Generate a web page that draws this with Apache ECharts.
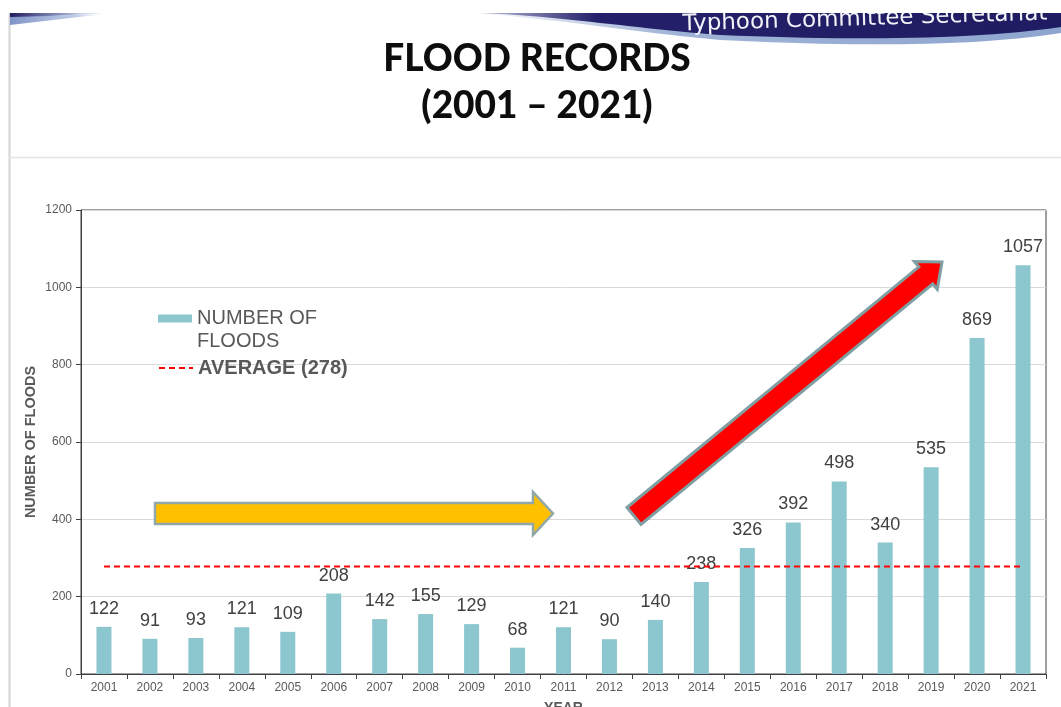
<!DOCTYPE html>
<html>
<head>
<meta charset="utf-8">
<title>Flood Records (2001 – 2021)</title>
<script src="https://cdn.jsdelivr.net/npm/echarts@6/dist/echarts.min.js"></script>
<style>
  html, body { margin: 0; padding: 0; background: #ffffff; }
  #chart { width: 1061px; height: 707px; }
</style>
</head>
<body>
<div id="chart"></div>
<script>
// Yearly flood counts and their long-term average
const years = ['2001', '2002', '2003', '2004', '2005', '2006', '2007', '2008', '2009', '2010', '2011',
               '2012', '2013', '2014', '2015', '2016', '2017', '2018', '2019', '2020', '2021'];
const floods = [122, 91, 93, 121, 109, 208, 142, 155, 129, 68, 121,
                90, 140, 238, 326, 392, 498, 340, 535, 869, 1057];
const averageValue = 278;
const averageLine = years.map(() => averageValue);
const yTicks = { min: 0, max: 1200, interval: 200 };

const BAR_NAME = 'NUMBER OF FLOODS';
const AVG_NAME = 'AVERAGE (' + averageValue + ')';

const chart = echarts.init(document.getElementById('chart'), null, { renderer: 'canvas' });

// Block arrow polygon from tail to tip
function blockArrow(tail, tip, halfShaft, headLen, halfHead) {
  const dx = tip[0] - tail[0], dy = tip[1] - tail[1];
  const len = Math.hypot(dx, dy);
  const ux = dx / len, uy = dy / len;
  const nx = -uy, ny = ux;
  const bx = tip[0] - ux * headLen, by = tip[1] - uy * headLen;
  return [
    [tail[0] - nx * halfShaft, tail[1] - ny * halfShaft],
    [bx - nx * halfShaft, by - ny * halfShaft],
    [bx - nx * halfHead, by - ny * halfHead],
    tip,
    [bx + nx * halfHead, by + ny * halfHead],
    [bx + nx * halfShaft, by + ny * halfShaft],
    [tail[0] + nx * halfShaft, tail[1] + ny * halfShaft]
  ];
}

// Sample a chain of cubic Bezier segments into polygon points
function bezierChain(start, segments, steps) {
  const pts = [start];
  let p0 = start;
  segments.forEach(([c1, c2, p3]) => {
    for (let i = 1; i <= steps; i++) {
      const t = i / steps, m = 1 - t;
      pts.push([
        m * m * m * p0[0] + 3 * m * m * t * c1[0] + 3 * m * t * t * c2[0] + t * t * t * p3[0],
        m * m * m * p0[1] + 3 * m * m * t * c1[1] + 3 * m * t * t * c2[1] + t * t * t * p3[1]
      ]);
    }
    p0 = p3;
  });
  return pts;
}

// header swoosh outlines (lower edges run right to left)
const bandEdge = bezierChain([1061, 27], [[[980, 39], [860, 41], [720, 35]], [[640, 29], [560, 16], [480, 13]]], 24);
const stripeEdge = bezierChain([1061, 33], [[[980, 46], [860, 47], [720, 40]], [[640, 33], [560, 19], [470, 13]]], 24);

const labelFont = 'Liberation Sans, Arial, sans-serif';

chart.setOption({
  backgroundColor: '#ffffff',
  animation: false,
  title: {
    text: 'FLOOD RECORDS\n(2001 – 2021)',
    left: 537,
    top: 36,
    padding: 0,
    textAlign: 'center',
    textStyle: {
      fontFamily: 'Lato, sans-serif',
      fontWeight: 900,
      fontSize: 37,
      lineHeight: 47,
      color: '#0d0d0d'
    }
  },
  legend: [
    {
      data: [{ name: BAR_NAME, icon: 'rect' }],
      left: 158,
      top: 284,
      padding: 0,
      itemWidth: 34,
      itemHeight: 8,
      formatter: () => '\nNUMBER OF\nFLOODS',
      textStyle: {
        fontFamily: labelFont,
        fontSize: 20,
        lineHeight: 23,
        color: '#595959'
      }
    },
    {
      data: [{ name: AVG_NAME, itemStyle: { opacity: 0 } }],
      left: 158,
      top: 358,
      padding: 0,
      itemWidth: 34,
      itemHeight: 8,
      textStyle: {
        fontFamily: labelFont,
        fontSize: 20,
        fontWeight: 'bold',
        color: '#595959'
      }
    }
  ],
  grid: {
    left: 81,
    right: 15,
    top: 210,
    bottom: 33,
    outerBoundsMode: 'none',
    containLabel: false,
    show: true,
    borderColor: '#404040',
    borderWidth: 1
  },
  xAxis: {
    type: 'category',
    data: years,
    boundaryGap: true,
    name: 'YEAR',
    nameLocation: 'middle',
    nameGap: 27,
    nameTextStyle: { fontFamily: labelFont, fontSize: 14, fontWeight: 'bold', color: '#595959' },
    axisLine: { lineStyle: { color: '#404040', width: 1 } },
    axisTick: { show: true, alignWithLabel: false, length: 5, lineStyle: { color: '#404040' } },
    axisLabel: { fontFamily: labelFont, fontSize: 12, color: '#595959', margin: 8, interval: 0 },
    splitLine: { show: false }
  },
  yAxis: {
    type: 'value',
    min: yTicks.min,
    max: yTicks.max,
    interval: yTicks.interval,
    name: 'NUMBER OF FLOODS',
    nameLocation: 'middle',
    nameRotate: 90,
    nameGap: 43,
    nameMoveOverlap: false,
    nameTextStyle: { fontFamily: labelFont, fontSize: 14.5, fontWeight: 'bold', color: '#595959' },
    axisLine: { show: true, lineStyle: { color: '#404040', width: 1 } },
    axisTick: { show: true, length: 5, lineStyle: { color: '#404040' } },
    axisLabel: { fontFamily: labelFont, fontSize: 12, color: '#595959', margin: 9, formatter: v => String(v) },
    splitLine: { show: true, lineStyle: { color: '#d9d9d9', width: 1 } }
  },
  series: [
    {
      name: BAR_NAME,
      type: 'bar',
      data: floods,
      barWidth: 15,
      itemStyle: { color: '#8cc6ce' },
      label: {
        show: true,
        position: 'top',
        distance: 9,
        fontFamily: labelFont,
        fontSize: 18,
        color: '#404040'
      }
    },
    {
      name: AVG_NAME,
      type: 'line',
      data: averageLine,
      symbol: 'none',
      lineStyle: { color: '#ff0000', width: 2, type: [6, 4] },
      itemStyle: { color: '#ff0000' },
      z: 3
    }
  ],
  graphic: [
    // slide frame
    { type: 'line', shape: { x1: 9.5, y1: 13, x2: 9.5, y2: 707 }, style: { stroke: '#d4d4d4', lineWidth: 2 }, z: 1 },
    { type: 'line', shape: { x1: 9, y1: 157.5, x2: 1061, y2: 157.5 }, style: { stroke: '#e3e3e3', lineWidth: 1.5 }, z: 1 },
    // header swoosh, left
    {
      type: 'polygon', z: 1,
      shape: { points: [[10, 13], [110, 13], [10, 18]] },
      style: { fill: new echarts.graphic.LinearGradient(0, 0, 1, 0, [
        { offset: 0, color: '#1e1a5c' }, { offset: 0.5, color: 'rgba(60,70,140,0.6)' }, { offset: 1, color: 'rgba(120,140,200,0)' }]) }
    },
    {
      type: 'polygon', z: 1,
      shape: { points: [[10, 17], [105, 14], [10, 25]] },
      style: { fill: new echarts.graphic.LinearGradient(0, 0, 1, 0, [
        { offset: 0, color: '#7f93c6' }, { offset: 0.7, color: 'rgba(150,170,215,0.6)' }, { offset: 1, color: 'rgba(170,185,225,0)' }]) }
    },
    // header swoosh, right: light stripe under the dark band
    {
      type: 'polygon', z: 1,
      shape: { points: [[470, 13], [1061, 13]].concat(stripeEdge) },
      style: { fill: new echarts.graphic.LinearGradient(0, 0, 1, 0, [
        { offset: 0, color: 'rgba(150,170,210,0)' }, { offset: 0.35, color: '#9fb3d6' }, { offset: 1, color: '#8ea5cf' }]) }
    },
    // dark band
    {
      type: 'polygon', z: 2,
      shape: { points: [[480, 13], [1061, 13]].concat(bandEdge) },
      style: { fill: new echarts.graphic.LinearGradient(0, 0, 1, 0, [
        { offset: 0, color: 'rgba(60,60,130,0.3)' }, { offset: 0.2, color: '#24216a' }, { offset: 1, color: '#1f1c63' }]) }
    },
    {
      type: 'text', z: 3,
      x: 683, y: 36, rotation: 0.03,
      style: {
        text: 'Typhoon Committee Secretariat',
        fontFamily: 'DejaVu Sans, sans-serif',
        fontSize: 23,
        fill: '#f2f2f8',
        textVerticalAlign: 'bottom',
        textAlign: 'left'
      }
    },
    // blank strip above the header band
    { type: 'rect', z: 4, shape: { x: 0, y: 0, width: 1061, height: 13 }, style: { fill: '#ffffff' } },
    // flat trend arrow
    {
      type: 'polygon', z: 10,
      shape: { points: blockArrow([155, 513.5], [553, 513.5], 10.5, 20, 21.5) },
      style: { fill: '#ffc000', stroke: '#90a8aa', lineWidth: 2.5, lineJoin: 'miter' }
    },
    // rising trend arrow
    {
      type: 'polygon', z: 10,
      shape: { points: blockArrow([634, 516], [942, 262], 11, 21, 18) },
      style: { fill: '#ff0000', stroke: '#7f9fa2', lineWidth: 3, lineJoin: 'miter' }
    }
  ]
});
</script>
</body>
</html>
